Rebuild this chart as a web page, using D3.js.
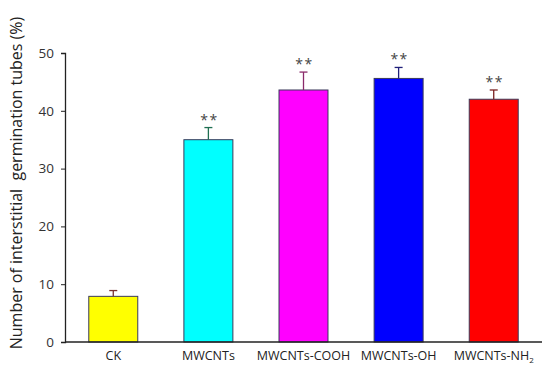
<!DOCTYPE html>
<html>
<head>
<meta charset="utf-8">
<script src="https://cdn.jsdelivr.net/npm/d3@7"></script>
<style>
  body { margin: 0; background: #fff; }
  text { font-family: "Open Sans", sans-serif; }
</style>
</head>
<body>
<script>
const w = 550;
const h = 377;

const categories = ["CK", "MWCNTs", "MWCNTs-COOH", "MWCNTs-OH", "MWCNTs-NH2"];
const means = [7.9, 35.0, 43.6, 45.6, 42.0];
const errors = [1.0, 2.1, 3.1, 1.9, 1.6];
const marks = ["", "**", "**", "**", "**"];
const barColors = ["#ffff00", "#00ffff", "#ff00ff", "#0000ff", "#ff0000"];
const errColors = ["#7a3030", "#1f6f52", "#8a2a6a", "#20207a", "#7a2020"];
const yTicks = [0, 10, 20, 30, 40, 50];

const margin = {left: 65, right: 8, top: 53, bottom: 35};

const svg = d3.select("body")
              .append("svg")
              .attr("width", w)
              .attr("height", h);

const x = d3.scaleBand()
            .domain(categories)
            .range([margin.left, 542])
            .paddingInner(0.485)
            .paddingOuter(0.25);

const y = d3.scaleLinear()
            .domain([0, 50])
            .range([h - margin.bottom, margin.top]);

// bars
svg.append("g")
   .selectAll("rect")
   .data(categories)
   .enter()
   .append("rect")
   .attr("x", d => x(d))
   .attr("y", (d, i) => y(means[i]))
   .attr("width", x.bandwidth())
   .attr("height", (d, i) => y(0) - y(means[i]))
   .attr("fill", (d, i) => barColors[i])
   .attr("stroke", "#3a3a5a")
   .attr("stroke-width", 1);

// error bars
const err = svg.append("g");
categories.forEach((c, i) => {
  const cx = x(c) + x.bandwidth() / 2;
  err.append("line")
     .attr("x1", cx).attr("x2", cx)
     .attr("y1", y(means[i])).attr("y2", y(means[i] + errors[i]))
     .attr("stroke", errColors[i]).attr("stroke-width", 1.3);
  err.append("line")
     .attr("x1", cx - 4).attr("x2", cx + 4)
     .attr("y1", y(means[i] + errors[i])).attr("y2", y(means[i] + errors[i]))
     .attr("stroke", errColors[i]).attr("stroke-width", 1.3);
  err.append("text")
     .attr("x", cx + 1)
     .attr("y", y(means[i] + errors[i]) - 3)
     .attr("text-anchor", "middle")
     .attr("font-size", 14)
     .attr("letter-spacing", 1.5)
     .attr("fill", "#444")
     .text(marks[i]);
});

// y axis
const yAxis = svg.append("g")
   .attr("transform", "translate(" + margin.left + ",0)")
   .call(d3.axisLeft(y).tickValues(yTicks).tickSize(4).tickPadding(7));
yAxis.select(".domain").attr("stroke", "#222").attr("stroke-width", 1.3);
yAxis.selectAll(".tick line").attr("stroke", "#222");
yAxis.selectAll(".tick text").attr("font-size", 13.5).attr("fill", "#333")
     .attr("font-family", "'Open Sans', sans-serif");

// x axis
const xAxis = svg.append("g")
   .attr("transform", "translate(0," + y(0) + ")")
   .call(d3.axisBottom(x).tickSize(0).tickPadding(9));
xAxis.select(".domain").attr("stroke", "#222").attr("stroke-width", 1.3)
     .attr("d", "M" + margin.left + ",0H542");
xAxis.selectAll(".tick text")
     .attr("font-size", 12.5)
     .attr("fill", "#222")
     .attr("font-family", "'Open Sans', sans-serif")
     .each(function(d) {
       if (d === "MWCNTs-NH2") {
         const t = d3.select(this).text("MWCNTs-NH");
         t.append("tspan").attr("font-size", 8).attr("dy", 3).text("2");
       }
     });

// y label
svg.append("text")
   .attr("transform", "translate(22," + 183 + ") rotate(-90)")
   .attr("text-anchor", "middle")
   .attr("font-size", 16)
   .attr("fill", "#222")
   .attr("xml:space", "preserve")
   .style("white-space", "pre")
   .text("Number of interstitial  germination tubes (%)");
</script>
</body>
</html>
